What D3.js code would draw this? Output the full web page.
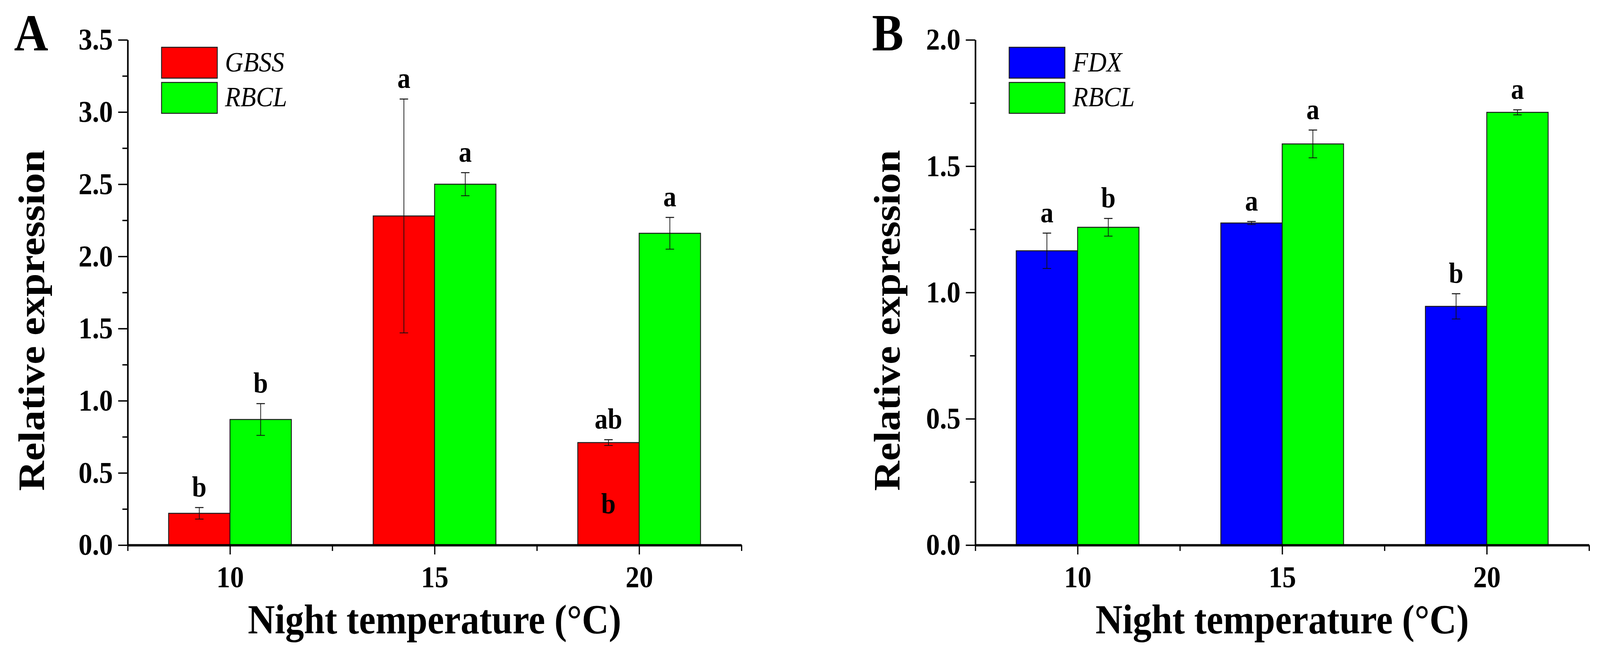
<!DOCTYPE html>
<html>
<head>
<meta charset="utf-8">
<script src="https://cdn.jsdelivr.net/npm/d3@7"></script>
<style>
  html, body { margin: 0; padding: 0; width: 100%; height: 100%; overflow: hidden; background: #fff; }
  #chart { display: block; width: 100vw; height: 100vh; }
  svg text { font-family: "Liberation Serif", "Times New Roman", serif; }
</style>
</head>
<body>
<svg id="chart" viewBox="0 0 4536 1684" preserveAspectRatio="none"></svg>
<script>
// categories (night temperature, °C)
var temps = [10, 15, 20];

// panel A
var gbssMean = [0.22, 2.28, 0.71];
var gbssErr  = [0.04, 0.81, 0.02];
var gbssLetters = ["b", "a", "ab"];
var rbclAMean = [0.87, 2.50, 2.16];
var rbclAErr  = [0.11, 0.08, 0.11];
var rbclALetters = ["b", "a", "a"];
var yTicksA = [0, 0.5, 1.0, 1.5, 2.0, 2.5, 3.0, 3.5];

// panel B
var fdxMean = [1.165, 1.275, 0.945];
var fdxErr  = [0.07, 0.006, 0.05];
var fdxLetters = ["a", "a", "b"];
var rbclBMean = [1.258, 1.588, 1.713];
var rbclBErr  = [0.035, 0.055, 0.01];
var rbclBLetters = ["b", "a", "a"];
var yTicksB = [0, 0.5, 1.0, 1.5, 2.0];

// stray letter printed inside the 20 °C GBSS bar
var innerLabelA = { temp: 20, value: 0.22, text: "b" };

var svg = d3.select("#chart");

var baseY = 1395, topY = 102, axisW = 1740;
var barW = 1.5; // in x-units

function drawPanel(o) {
    var g = svg.append("g");

    var x = d3.scaleLinear().domain([7.5, 22.5]).range([o.left, o.left + axisW]);
    var y = d3.scaleLinear().domain([0, o.yMax]).range([baseY, topY]);

    // bars: first series left of the tick, second right of it
    o.series.forEach(function(s, si) {
        var data = temps.map(function(t, i) {
            return {t: t, v: s.mean[i], e: s.err[i], l: s.letters[i]};
        });
        var x0 = function(d) { return si == 0 ? x(d.t - barW) : x(d.t); };
        var cx = function(d) { return x0(d) + (x(barW) - x(0)) / 2; };

        g.selectAll(".bar" + si)
            .data(data)
            .enter()
            .append("rect")
            .attr("x", x0)
            .attr("y", function(d) { return y(d.v); })
            .attr("width", x(barW) - x(0))
            .attr("height", function(d) { return baseY - y(d.v); })
            .style("fill", s.color)
            .style("stroke", "#1a1a1a")
            .style("stroke-width", 2.5);

        // error bars
        data.forEach(function(d) {
            var c = cx(d);
            g.append("line")
                .attr("x1", c).attr("x2", c)
                .attr("y1", y(d.v + d.e)).attr("y2", y(d.v - d.e))
                .style("stroke", "#111").style("stroke-width", 2);
            g.append("line")
                .attr("x1", c - 12).attr("x2", c + 12)
                .attr("y1", y(d.v + d.e)).attr("y2", y(d.v + d.e))
                .style("stroke", "#111").style("stroke-width", 2.5);
            g.append("line")
                .attr("x1", c - 12).attr("x2", c + 12)
                .attr("y1", y(d.v - d.e)).attr("y2", y(d.v - d.e))
                .style("stroke", "#111").style("stroke-width", 2);
        });

        // significance letters
        g.selectAll(".lab" + si)
            .data(data)
            .enter()
            .append("text")
            .attr("x", cx)
            .attr("y", function(d) { return y(d.v + d.e) - 28; })
            .attr("text-anchor", "middle")
            .style("font-size", "74px")
            .style("font-weight", "bold")
            .text(function(d) { return d.l; });

        // legend
        g.append("rect")
            .attr("x", o.left + 96)
            .attr("y", 121 + si * 90)
            .attr("width", 158)
            .attr("height", 79)
            .style("fill", s.color)
            .style("stroke", "#1a1a1a")
            .style("stroke-width", 2.5);
        g.append("text")
            .attr("x", o.left + 276)
            .attr("y", 183 + si * 89)
            .style("font-size", "72px")
            .style("font-style", "italic")
            .text(s.name);
    });

    if (o.inner) {
        g.append("text")
            .attr("x", x(o.inner.temp - barW / 2))
            .attr("y", y(o.inner.value))
            .attr("text-anchor", "middle")
            .style("font-size", "74px")
            .style("font-weight", "bold")
            .text(o.inner.text);
    }

    // y axis: major + minor ticks
    var minorY = o.yTicks.slice(0, -1).map(function(v) { return v + 0.25; });
    g.append("g")
        .attr("transform", "translate(" + o.left + ",0)")
        .call(d3.axisLeft(y).tickValues(minorY).tickSize(15).tickSizeOuter(0).tickFormat(""))
        .call(function(a) { a.select(".domain").remove(); });
    var yAxis = g.append("g")
        .attr("transform", "translate(" + o.left + ",0)")
        .call(d3.axisLeft(y).tickValues(o.yTicks).tickSize(27).tickSizeOuter(0)
            .tickPadding(15).tickFormat(d3.format(".1f")));
    yAxis.select(".domain").style("stroke-width", 4.5);

    // x axis: major ticks at categories, minor between them
    g.append("g")
        .attr("transform", "translate(0," + baseY + ")")
        .call(d3.axisBottom(x).tickValues([7.5, 12.5, 17.5, 22.5]).tickSize(15).tickSizeOuter(0).tickFormat(""))
        .call(function(a) { a.select(".domain").remove(); });
    var xAxis = g.append("g")
        .attr("transform", "translate(0," + baseY + ")")
        .call(d3.axisBottom(x).tickValues(temps).tickSize(24).tickSizeOuter(0).tickPadding(29));
    xAxis.select(".domain").style("stroke-width", 6);

    g.selectAll(".tick line").style("stroke-width", 3.5);
    g.selectAll(".tick text")
        .style("font-family", "Liberation Serif")
        .style("font-size", "78px")
        .style("font-weight", "bold")
        .style("fill", "#000");

    // axis titles
    g.append("text")
        .attr("transform", "translate(" + (o.left - o.titleOff) + ",820) rotate(-90)")
        .attr("text-anchor", "middle")
        .style("font-size", "106px")
        .style("font-weight", "bold")
        .text("Relative expression");
    g.append("text")
        .attr("x", x(15))
        .attr("y", 1621)
        .attr("text-anchor", "middle")
        .style("font-size", "106px")
        .style("font-weight", "bold")
        .text("Night temperature (\u00B0C)");

    // panel letter
    g.append("text")
        .attr("x", o.letterX)
        .attr("y", 129)
        .style("font-size", "134px")
        .style("font-weight", "bold")
        .text(o.letter);
}

drawPanel({
    left: 362, yMax: 3.5, yTicks: yTicksA, letter: "A", letterX: 40, titleOff: 237,
    series: [
        {name: "GBSS", color: "#ff0000", mean: gbssMean, err: gbssErr, letters: gbssLetters},
        {name: "RBCL", color: "#00ff00", mean: rbclAMean, err: rbclAErr, letters: rbclALetters}
    ],
    inner: innerLabelA
});

drawPanel({
    left: 2765, yMax: 2.0, yTicks: yTicksB, letter: "B", letterX: 2472, titleOff: 215,
    series: [
        {name: "FDX", color: "#0000ff", mean: fdxMean, err: fdxErr, letters: fdxLetters},
        {name: "RBCL", color: "#00ff00", mean: rbclBMean, err: rbclBErr, letters: rbclBLetters}
    ]
});
</script>
</body>
</html>
